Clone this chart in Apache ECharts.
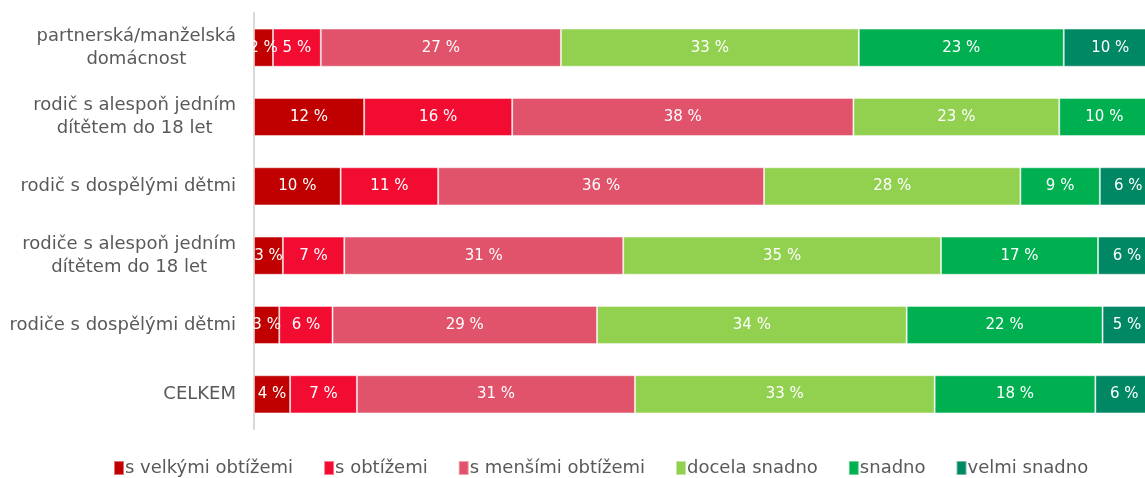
<!DOCTYPE html>
<html>
<head>
<meta charset="utf-8">
<script src="https://cdn.jsdelivr.net/npm/echarts@6/dist/echarts.min.js"></script>
<style>
  html, body { margin: 0; padding: 0; background: #fff; }
  #chart { width: 1145px; height: 478px; }
</style>
</head>
<body>
<div id="chart"></div>
<script>
var categories = [
    'partnerská/manželská\ndomácnost',
    'rodič s alespoň jedním\ndítětem do 18 let',
    'rodič s dospělými dětmi',
    'rodiče s alespoň jedním\ndítětem do 18 let',
    'rodiče s dospělými dětmi',
    'CELKEM'
];
var seriesNames = ['s velkými obtížemi', 's obtížemi', 's menšími obtížemi', 'docela snadno', 'snadno', 'velmi snadno'];
var colors = ['#c00000', '#f20c31', '#e0536a', '#92d050', '#00b050', '#008764'];

// podíly v %
var velkeObtize   = [2.1, 12.2, 9.6, 3.2, 2.8, 4.0];
var obtize        = [5.3, 16.4, 10.8, 6.8, 5.9, 7.4];
var mensiObtize   = [26.6, 37.8, 36.1, 30.9, 29.3, 30.8];
var docelaSnadno  = [33.0, 22.8, 28.4, 35.2, 34.3, 33.2];
var snadno        = [22.7, 10.0, 8.8, 17.4, 21.7, 17.8];
var velmiSnadno   = [10.3, 0.8, 6.3, 6.4, 5.4, 6.4];

var allData = [velkeObtize, obtize, mensiObtize, docelaSnadno, snadno, velmiSnadno];
var fontName = '"DejaVu Sans", sans-serif';

var myChart = echarts.init(document.getElementById('chart'));

var series = seriesNames.map(function (name, i) {
    return {
        name: name,
        type: 'bar',
        stack: 'total',
        clip: false,
        barCategoryGap: '45%',
        itemStyle: {
            color: colors[i],
            borderColor: 'rgba(255,255,255,0.45)',
            borderWidth: 1
        },
        label: {
            show: true,
            position: 'inside',
            color: '#ffffff',
            fontFamily: fontName,
            fontSize: 15,
            formatter: function (p) {
                // popisky pod 1 % se v grafu neukazují
                return p.value < 1 ? '' : Math.round(p.value) + ' %';
            }
        },
        data: allData[i]
    };
});

var option = {
    animation: false,
    color: colors,
    grid: {
        left: 254,
        right: 0,
        top: 13,
        bottom: 49
    },
    legend: {
        top: 454,
        left: 108,
        itemWidth: 10,
        itemHeight: 14,
        itemGap: 30,
        icon: 'rect',
        textStyle: {
            color: '#595959',
            fontFamily: fontName,
            fontSize: 18,
            padding: [0, 0, 0, -4]
        },
        data: seriesNames
    },
    xAxis: {
        type: 'value',
        min: 0,
        max: 98.7,   // pravý okraj grafu je v obrázku oříznutý
        show: false
    },
    yAxis: {
        type: 'category',
        inverse: true,
        data: categories,
        axisLine: {
            lineStyle: { color: '#d9d9d9', width: 2 }
        },
        axisTick: { show: false },
        axisLabel: {
            margin: 18,
            color: '#595959',
            fontFamily: fontName,
            fontSize: 18,
            lineHeight: 23,
            align: 'right',
            formatter: function (v) {
                return v.split('\n').map(function (s) {
                    return '{c|' + s + '}';
                }).join('\n');
            },
            rich: {
                c: {
                    align: 'center',
                    color: '#595959',
                    fontFamily: fontName,
                    fontSize: 18,
                    lineHeight: 23
                }
            }
        }
    },
    series: series
};
myChart.setOption(option);
</script>
</body>
</html>
